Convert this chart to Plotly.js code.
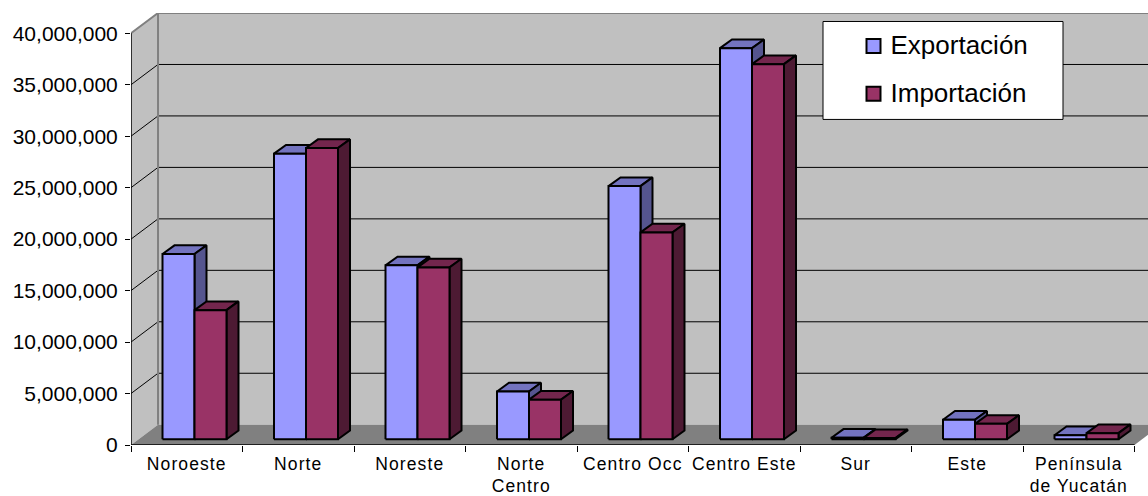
<!DOCTYPE html>
<html lang="es">
<head>
<meta charset="utf-8">
<title>Exportación e importación por región</title>
<script src="https://cdn.plot.ly/plotly-3.0.1.min.js"></script>
<style>
  html, body { margin: 0; padding: 0; background: #fff; }
  #chart { width: 1148px; height: 496px; }
  .xtick text { letter-spacing: 1.1px; }
  .legendtext { transform: translate(-3px, -2px); }
</style>
</head>
<body>
<div id="chart"></div>
<script>
// Regional trade values
const categories = ["Noroeste", "Norte", "Noreste", "Norte<br>Centro", "Centro Occ",
                    "Centro Este", "Sur", "Este", "Península<br>de Yucatán"];
const exportacion = [18000000, 27750000, 16900000, 4650000, 24600000, 38000000, 150000, 1900000, 400000];
const importacion = [12550000, 28300000, 16700000, 3850000, 20100000, 36450000, 120000, 1500000, 600000];
const yTicks = [0, 5000000, 10000000, 15000000, 20000000, 25000000, 30000000, 35000000, 40000000];

// Pseudo-3D projection, expressed in axis units
const wallDX = 0.2422, wallDY = 1970000;   // depth of the whole plot box
const barDX = 0.1076, barDY = 845000;      // depth of one column
const barStart = 0.2825, barW = 0.287;     // column placement inside a category
const floorLift = 553000;                  // columns stand a little behind the front edge
const yMax = 40000000, nCat = categories.length;

// Plot rectangle in page pixels
const L = 131, T = 12.5, W = 1017, H = 432.3;
const px = v => (v - L) / W, py = v => 1 - (v - T) / H;

function poly(name, pts, fill, line, width) {
  return {
    type: "scatter", mode: width ? "lines" : "none", name, showlegend: false, hoverinfo: "skip",
    x: pts.map(p => p ? p[0] : null), y: pts.map(p => p ? p[1] : null),
    fill: "toself", fillcolor: fill,
    line: { color: line || fill, width: width || 0, simplify: false }
  };
}
function path(name, pts, color, width) {
  return {
    type: "scatter", mode: "lines", name, showlegend: false, hoverinfo: "skip", cliponaxis: false,
    x: pts.map(p => p ? p[0] : null), y: pts.map(p => p ? p[1] : null),
    line: { color, width, simplify: false }
  };
}

// Faces of one series, split so they can be painted back to front
function faces(values, offset) {
  const front = [], top = [], side = [];
  values.forEach((v, i) => {
    const x0 = i + barStart + offset * barW, x1 = x0 + barW;
    const y0 = floorLift, y1 = v + floorLift;
    front.push([x0, y0], [x1, y0], [x1, y1], [x0, y1], [x0, y0], null);
    top.push([x0, y1], [x1, y1], [x1 + barDX, y1 + barDY], [x0 + barDX, y1 + barDY], [x0, y1], null);
    side.push([x1, y0], [x1 + barDX, y0 + barDY], [x1 + barDX, y1 + barDY], [x1, y1], [x1, y0], null);
  });
  return { front, top, side };
}

const xEnd = nCat + 1;
const traces = [];

// Walls and floor
traces.push(poly("Pared", [[0, 0], [wallDX, wallDY], [xEnd, wallDY], [xEnd, yMax + wallDY],
                           [wallDX, yMax + wallDY], [0, yMax], [0, 0]], "#c0c0c0"));
traces.push(poly("Piso", [[0, 0], [nCat, 0], [nCat + wallDX, wallDY], [wallDX, wallDY], [0, 0]], "#808080"));

// Gridlines run along the side wall and then across the back wall
const grid = [];
yTicks.slice(1, -1).forEach(v => grid.push([0, v], [wallDX, v + wallDY], [xEnd, v + wallDY], null));
traces.push(path("Rejilla", grid, "#000000", 1));

// Outer edges of the box
traces.push(path("Borde", [[0, yMax], [wallDX, yMax + wallDY], [xEnd, yMax + wallDY], null,
                           [wallDX, yMax + wallDY], [wallDX, wallDY]], "#808080", 2));

// Columns
const expo = faces(exportacion, 0), impo = faces(importacion, 1);
const edge = "#000000", edgeW = 2;
traces.push(poly("Exportación superior", expo.top, "#7373bf", edge, edgeW));
traces.push(poly("Exportación lateral", expo.side, "#55558f", edge, edgeW));
traces.push(poly("Exportación frontal", expo.front, "#9999ff", edge, edgeW));
traces.push(poly("Importación superior", impo.top, "#73264d", edge, edgeW));
traces.push(poly("Importación lateral", impo.side, "#4d1a33", edge, edgeW));
traces.push(poly("Importación frontal", impo.front, "#993366", edge, edgeW));

// Axis lines stop at the front of the box
traces.push(path("Ejes", [[0, yMax], [0, 0], [nCat, 0]], "#000000", 1.5));

// Legend keys
[["Exportación", "#9999ff"], ["Importación", "#993366"]].forEach(([name, color]) => {
  traces.push({
    type: "scatter", mode: "markers", name, legendgroup: name, x: [null], y: [null],
    marker: { symbol: "square", size: 14, color, line: { color: "#000", width: 2 } }
  });
});

const layout = {
  width: 1148, height: 496,
  margin: { l: L, r: 0, t: T, b: 496 - T - H, pad: 0 },
  paper_bgcolor: "#ffffff", plot_bgcolor: "#ffffff",
  font: { family: "'Liberation Sans', Arial, sans-serif", color: "#000000" },
  hovermode: false,
  xaxis: {
    range: [0, W / 111.5], fixedrange: true, showgrid: false, zeroline: false, showline: false,
    tickmode: "array", tickvals: categories.map((_, i) => i + 0.5), ticktext: categories,
    ticks: "", tickangle: 0, tickfont: { size: 17.5 }, ticklabelstandoff: 6,
    minor: { tickmode: "array", tickvals: Array.from({ length: nCat + 1 }, (_, i) => i),
             ticks: "outside", ticklen: 6, tickwidth: 1, tickcolor: "#000", showgrid: false }
  },
  yaxis: {
    range: [0, yMax + wallDY], fixedrange: true, showgrid: false, zeroline: false, showline: false,
    tickmode: "array", tickvals: yTicks, tickformat: ",.0f",
    ticks: "outside", ticklen: 5, tickwidth: 1, tickcolor: "#000",
    tickfont: { size: 21 }, ticklabelstandoff: 3
  },
  shapes: [{
    type: "rect", layer: "above", xref: "paper", yref: "paper",
    x0: px(823), x1: px(1063), y0: py(119), y1: py(21),
    fillcolor: "#ffffff", line: { color: "#000000", width: 1 }
  }],
  showlegend: true,
  legend: {
    x: px(853.5), y: py(22), xanchor: "left", yanchor: "top",
    bgcolor: "rgba(0,0,0,0)", borderwidth: 0,
    font: { size: 26 }, traceorder: "grouped", tracegroupgap: 11, itemclick: false, itemdoubleclick: false
  }
};

Plotly.newPlot("chart", traces, layout, { displayModeBar: false, staticPlot: true });
</script>
</body>
</html>
